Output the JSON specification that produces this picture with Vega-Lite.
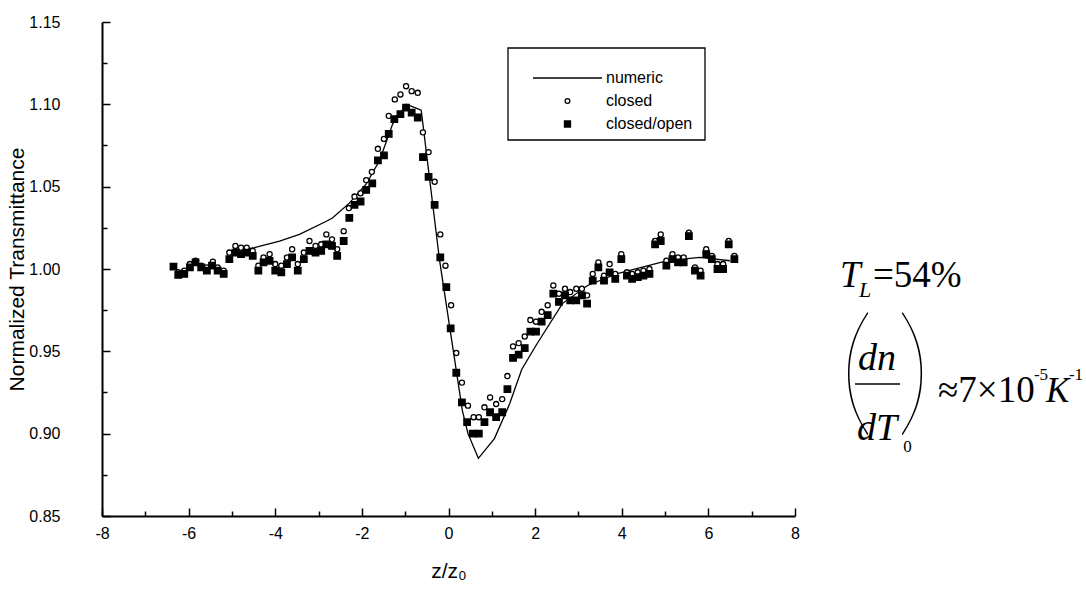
{
  "$schema": "https://vega.github.io/schema/vega-lite/v6.json",
  "width": 693,
  "height": 494,
  "autosize": {"type": "none"},
  "padding": {"left": 102, "top": 22, "right": 291, "bottom": 78},
  "background": "white",
  "datasets": {
    "numeric": [
      {"z": -4.7, "T": 1.012}, {"z": -4.48, "T": 1.013}, {"z": -3.9, "T": 1.017}, {"z": -3.44, "T": 1.021},
      {"z": -2.82, "T": 1.029}, {"z": -2.68, "T": 1.031}, {"z": -2.29, "T": 1.040}, {"z": -1.89, "T": 1.052},
      {"z": -1.59, "T": 1.066}, {"z": -1.29, "T": 1.088}, {"z": -0.97, "T": 1.100}, {"z": -0.63, "T": 1.0964},
      {"z": -0.21, "T": 1.006}, {"z": 0.32, "T": 0.914}, {"z": 0.45, "T": 0.900}, {"z": 0.69, "T": 0.885},
      {"z": 1.06, "T": 0.897}, {"z": 1.41, "T": 0.918}, {"z": 1.69, "T": 0.939}, {"z": 2.03, "T": 0.954},
      {"z": 2.63, "T": 0.979}, {"z": 3.21, "T": 0.990}, {"z": 3.88, "T": 0.997}, {"z": 5.03, "T": 1.005},
      {"z": 5.8, "T": 1.007}, {"z": 6.5, "T": 1.005}
    ],
    "points": [
      {"z": -6.24, "T": 0.998, "series": "closed"}, {"z": -6.10, "T": 0.999, "series": "closed"}, {"z": -5.97, "T": 1.003, "series": "closed"},
      {"z": -5.84, "T": 1.005, "series": "closed"}, {"z": -5.71, "T": 1.002, "series": "closed"}, {"z": -5.58, "T": 1.001, "series": "closed"},
      {"z": -5.44, "T": 1.0045, "series": "closed"}, {"z": -5.33, "T": 1.001, "series": "closed"}, {"z": -5.19, "T": 0.999, "series": "closed"},
      {"z": -5.06, "T": 1.010, "series": "closed"}, {"z": -4.92, "T": 1.014, "series": "closed"}, {"z": -4.79, "T": 1.013, "series": "closed"},
      {"z": -4.66, "T": 1.013, "series": "closed"}, {"z": -4.52, "T": 1.011, "series": "closed"}, {"z": -4.39, "T": 1.002, "series": "closed"},
      {"z": -4.27, "T": 1.007, "series": "closed"}, {"z": -4.13, "T": 1.009, "series": "closed"}, {"z": -4.00, "T": 1.003, "series": "closed"},
      {"z": -3.86, "T": 1.002, "series": "closed"}, {"z": -3.73, "T": 1.007, "series": "closed"}, {"z": -3.61, "T": 1.012, "series": "closed"},
      {"z": -3.48, "T": 1.003, "series": "closed"}, {"z": -3.34, "T": 1.010, "series": "closed"}, {"z": -3.21, "T": 1.017, "series": "closed"},
      {"z": -3.07, "T": 1.014, "series": "closed"}, {"z": -2.94, "T": 1.015, "series": "closed"}, {"z": -2.82, "T": 1.021, "series": "closed"},
      {"z": -2.69, "T": 1.018, "series": "closed"}, {"z": -2.57, "T": 1.012, "series": "closed"}, {"z": -2.42, "T": 1.023, "series": "closed"},
      {"z": -2.30, "T": 1.037, "series": "closed"}, {"z": -2.17, "T": 1.044, "series": "closed"}, {"z": -2.03, "T": 1.046, "series": "closed"},
      {"z": -1.90, "T": 1.054, "series": "closed"}, {"z": -1.77, "T": 1.059, "series": "closed"}, {"z": -1.63, "T": 1.073, "series": "closed"},
      {"z": -1.49, "T": 1.079, "series": "closed"}, {"z": -1.38, "T": 1.093, "series": "closed"}, {"z": -1.24, "T": 1.103, "series": "closed"},
      {"z": -1.11, "T": 1.106, "series": "closed"}, {"z": -0.98, "T": 1.111, "series": "closed"}, {"z": -0.85, "T": 1.108, "series": "closed"},
      {"z": -0.71, "T": 1.107, "series": "closed"}, {"z": -0.59, "T": 1.083, "series": "closed"}, {"z": -0.46, "T": 1.071, "series": "closed"},
      {"z": -0.32, "T": 1.053, "series": "closed"}, {"z": -0.19, "T": 1.021, "series": "closed"}, {"z": -0.07, "T": 1.002, "series": "closed"},
      {"z": 0.06, "T": 0.978, "series": "closed"}, {"z": 0.18, "T": 0.949, "series": "closed"}, {"z": 0.31, "T": 0.931, "series": "closed"},
      {"z": 0.45, "T": 0.917, "series": "closed"}, {"z": 0.58, "T": 0.910, "series": "closed"}, {"z": 0.70, "T": 0.910, "series": "closed"},
      {"z": 0.83, "T": 0.916, "series": "closed"}, {"z": 0.96, "T": 0.922, "series": "closed"}, {"z": 1.10, "T": 0.918, "series": "closed"},
      {"z": 1.24, "T": 0.921, "series": "closed"}, {"z": 1.36, "T": 0.935, "series": "closed"}, {"z": 1.49, "T": 0.953, "series": "closed"},
      {"z": 1.62, "T": 0.955, "series": "closed"}, {"z": 1.76, "T": 0.959, "series": "closed"}, {"z": 1.89, "T": 0.969, "series": "closed"},
      {"z": 2.02, "T": 0.968, "series": "closed"}, {"z": 2.15, "T": 0.974, "series": "closed"}, {"z": 2.29, "T": 0.978, "series": "closed"},
      {"z": 2.42, "T": 0.990, "series": "closed"}, {"z": 2.55, "T": 0.985, "series": "closed"}, {"z": 2.69, "T": 0.988, "series": "closed"},
      {"z": 2.81, "T": 0.986, "series": "closed"}, {"z": 2.95, "T": 0.988, "series": "closed"}, {"z": 3.08, "T": 0.988, "series": "closed"},
      {"z": 3.20, "T": 0.984, "series": "closed"}, {"z": 3.33, "T": 0.997, "series": "closed"}, {"z": 3.46, "T": 1.004, "series": "closed"},
      {"z": 3.59, "T": 0.996, "series": "closed"}, {"z": 3.72, "T": 1.003, "series": "closed"}, {"z": 3.85, "T": 0.997, "series": "closed"},
      {"z": 3.99, "T": 1.009, "series": "closed"}, {"z": 4.12, "T": 0.998, "series": "closed"}, {"z": 4.24, "T": 0.997, "series": "closed"},
      {"z": 4.37, "T": 0.998, "series": "closed"}, {"z": 4.50, "T": 0.999, "series": "closed"}, {"z": 4.64, "T": 1.000, "series": "closed"},
      {"z": 4.77, "T": 1.017, "series": "closed"}, {"z": 4.90, "T": 1.021, "series": "closed"}, {"z": 5.03, "T": 1.005, "series": "closed"},
      {"z": 5.17, "T": 1.009, "series": "closed"}, {"z": 5.30, "T": 1.007, "series": "closed"}, {"z": 5.43, "T": 1.007, "series": "closed"},
      {"z": 5.55, "T": 1.022, "series": "closed"}, {"z": 5.69, "T": 1.001, "series": "closed"}, {"z": 5.82, "T": 0.999, "series": "closed"},
      {"z": 5.95, "T": 1.012, "series": "closed"}, {"z": 6.08, "T": 1.008, "series": "closed"}, {"z": 6.21, "T": 1.003, "series": "closed"},
      {"z": 6.34, "T": 1.003, "series": "closed"}, {"z": 6.47, "T": 1.017, "series": "closed"}, {"z": 6.60, "T": 1.008, "series": "closed"},

      {"z": -6.35, "T": 1.0014, "series": "closed/open"}, {"z": -6.24, "T": 0.9964, "series": "closed/open"}, {"z": -6.10, "T": 0.997, "series": "closed/open"},
      {"z": -5.97, "T": 1.001, "series": "closed/open"}, {"z": -5.84, "T": 1.004, "series": "closed/open"}, {"z": -5.71, "T": 1.001, "series": "closed/open"},
      {"z": -5.58, "T": 0.999, "series": "closed/open"}, {"z": -5.46, "T": 1.002, "series": "closed/open"}, {"z": -5.33, "T": 0.999, "series": "closed/open"},
      {"z": -5.19, "T": 0.997, "series": "closed/open"}, {"z": -5.06, "T": 1.006, "series": "closed/open"}, {"z": -4.92, "T": 1.010, "series": "closed/open"},
      {"z": -4.79, "T": 1.009, "series": "closed/open"}, {"z": -4.66, "T": 1.010, "series": "closed/open"}, {"z": -4.52, "T": 1.008, "series": "closed/open"},
      {"z": -4.39, "T": 0.999, "series": "closed/open"}, {"z": -4.27, "T": 1.004, "series": "closed/open"}, {"z": -4.13, "T": 1.005, "series": "closed/open"},
      {"z": -4.00, "T": 0.999, "series": "closed/open"}, {"z": -3.86, "T": 0.998, "series": "closed/open"}, {"z": -3.73, "T": 1.003, "series": "closed/open"},
      {"z": -3.61, "T": 1.007, "series": "closed/open"}, {"z": -3.48, "T": 0.999, "series": "closed/open"}, {"z": -3.34, "T": 1.006, "series": "closed/open"},
      {"z": -3.21, "T": 1.011, "series": "closed/open"}, {"z": -3.07, "T": 1.010, "series": "closed/open"}, {"z": -2.94, "T": 1.011, "series": "closed/open"},
      {"z": -2.82, "T": 1.015, "series": "closed/open"}, {"z": -2.69, "T": 1.014, "series": "closed/open"}, {"z": -2.57, "T": 1.008, "series": "closed/open"},
      {"z": -2.42, "T": 1.017, "series": "closed/open"}, {"z": -2.29, "T": 1.031, "series": "closed/open"}, {"z": -2.17, "T": 1.039, "series": "closed/open"},
      {"z": -2.03, "T": 1.041, "series": "closed/open"}, {"z": -1.90, "T": 1.048, "series": "closed/open"}, {"z": -1.76, "T": 1.052, "series": "closed/open"},
      {"z": -1.63, "T": 1.066, "series": "closed/open"}, {"z": -1.49, "T": 1.069, "series": "closed/open"}, {"z": -1.38, "T": 1.082, "series": "closed/open"},
      {"z": -1.25, "T": 1.091, "series": "closed/open"}, {"z": -1.11, "T": 1.094, "series": "closed/open"}, {"z": -0.98, "T": 1.098, "series": "closed/open"},
      {"z": -0.85, "T": 1.095, "series": "closed/open"}, {"z": -0.71, "T": 1.092, "series": "closed/open"}, {"z": -0.59, "T": 1.068, "series": "closed/open"},
      {"z": -0.46, "T": 1.056, "series": "closed/open"}, {"z": -0.32, "T": 1.039, "series": "closed/open"}, {"z": -0.19, "T": 1.007, "series": "closed/open"},
      {"z": -0.05, "T": 0.989, "series": "closed/open"}, {"z": 0.05, "T": 0.964, "series": "closed/open"}, {"z": 0.18, "T": 0.937, "series": "closed/open"},
      {"z": 0.31, "T": 0.919, "series": "closed/open"}, {"z": 0.43, "T": 0.907, "series": "closed/open"}, {"z": 0.56, "T": 0.900, "series": "closed/open"},
      {"z": 0.70, "T": 0.900, "series": "closed/open"}, {"z": 0.83, "T": 0.907, "series": "closed/open"}, {"z": 0.96, "T": 0.913, "series": "closed/open"},
      {"z": 1.10, "T": 0.910, "series": "closed/open"}, {"z": 1.24, "T": 0.913, "series": "closed/open"}, {"z": 1.36, "T": 0.927, "series": "closed/open"},
      {"z": 1.49, "T": 0.946, "series": "closed/open"}, {"z": 1.62, "T": 0.948, "series": "closed/open"}, {"z": 1.76, "T": 0.952, "series": "closed/open"},
      {"z": 1.89, "T": 0.962, "series": "closed/open"}, {"z": 2.02, "T": 0.962, "series": "closed/open"}, {"z": 2.15, "T": 0.968, "series": "closed/open"},
      {"z": 2.29, "T": 0.972, "series": "closed/open"}, {"z": 2.42, "T": 0.985, "series": "closed/open"}, {"z": 2.55, "T": 0.980, "series": "closed/open"},
      {"z": 2.69, "T": 0.984, "series": "closed/open"}, {"z": 2.81, "T": 0.981, "series": "closed/open"}, {"z": 2.95, "T": 0.981, "series": "closed/open"},
      {"z": 3.08, "T": 0.984, "series": "closed/open"}, {"z": 3.20, "T": 0.979, "series": "closed/open"}, {"z": 3.33, "T": 0.993, "series": "closed/open"},
      {"z": 3.46, "T": 1.001, "series": "closed/open"}, {"z": 3.59, "T": 0.993, "series": "closed/open"}, {"z": 3.72, "T": 0.998, "series": "closed/open"},
      {"z": 3.85, "T": 0.994, "series": "closed/open"}, {"z": 3.99, "T": 1.006, "series": "closed/open"}, {"z": 4.12, "T": 0.996, "series": "closed/open"},
      {"z": 4.24, "T": 0.994, "series": "closed/open"}, {"z": 4.37, "T": 0.995, "series": "closed/open"}, {"z": 4.50, "T": 0.996, "series": "closed/open"},
      {"z": 4.64, "T": 0.997, "series": "closed/open"}, {"z": 4.77, "T": 1.015, "series": "closed/open"}, {"z": 4.90, "T": 1.017, "series": "closed/open"},
      {"z": 5.03, "T": 1.002, "series": "closed/open"}, {"z": 5.17, "T": 1.006, "series": "closed/open"}, {"z": 5.30, "T": 1.004, "series": "closed/open"},
      {"z": 5.43, "T": 1.004, "series": "closed/open"}, {"z": 5.55, "T": 1.020, "series": "closed/open"}, {"z": 5.69, "T": 0.999, "series": "closed/open"},
      {"z": 5.82, "T": 0.996, "series": "closed/open"}, {"z": 5.95, "T": 1.009, "series": "closed/open"}, {"z": 6.08, "T": 1.006, "series": "closed/open"},
      {"z": 6.21, "T": 1.000, "series": "closed/open"}, {"z": 6.34, "T": 1.000, "series": "closed/open"}, {"z": 6.47, "T": 1.015, "series": "closed/open"},
      {"z": 6.60, "T": 1.006, "series": "closed/open"}
    ],
    "legendBox": [
      {"z": 1.374, "z2": 5.922, "T": 1.13421, "T2": 1.07834}
    ],
    "legendLine": [
      {"z": 1.951, "z2": 3.544, "T": 1.11599}
    ],
    "legendSymbols": [
      {"z": 2.747, "T": 1.10202, "series": "closed"},
      {"z": 2.747, "T": 1.08806, "series": "closed/open"}
    ],
    "legendLabels": [
      {"z": 3.636, "T": 1.11599, "label": "numeric"},
      {"z": 3.636, "T": 1.10202, "label": "closed"},
      {"z": 3.636, "T": 1.08806, "label": "closed/open"}
    ],
    "annItalicBig": [
      {"z": 9.039, "T": 0.98907, "label": "T"}
    ],
    "annK": [
      {"z": 13.795, "T": 0.91923, "label": "K"}
    ],
    "annFraction": [
      {"z": 9.455, "T": 0.93866, "label": "dn"},
      {"z": 9.432, "T": 0.89615, "label": "dT"}
    ],
    "annUprightBig": [
      {"z": 9.801, "T": 0.98907, "label": "=54%"},
      {"z": 11.302, "T": 0.91923, "label": "≈7×10"}
    ],
    "annItalicSmall": [
      {"z": 9.478, "T": 0.983, "label": "L"}
    ],
    "annUprightSmall": [
      {"z": 10.50, "T": 0.88887, "label": "0"},
      {"z": 13.517, "T": 0.93259, "label": "-5"},
      {"z": 14.325, "T": 0.93259, "label": "-1"}
    ],
    "annParen": [
      {"z": 9.016, "T": 0.90951, "label": "("},
      {"z": 10.332, "T": 0.90951, "label": ")"}
    ],
    "fracBar": [
      {"z": 9.386, "z2": 10.425, "T": 0.93016}
    ]
  },
  "encoding": {
    "x": {
      "field": "z", "type": "quantitative",
      "scale": {"domain": [-8, 8], "nice": false, "zero": false},
      "axis": {
        "title": "z/z₀",
        "values": [-8, -7, -6, -5, -4, -3, -2, -1, 0, 1, 2, 3, 4, 5, 6, 7, 8],
        "labelExpr": "datum.value % 2 == 0 ? '' + datum.value : ''",
        "tickSize": {"condition": {"test": "datum.value % 2 == 0", "value": -8}, "value": -5},
        "labelPadding": 17,
        "titlePadding": 16,
        "labelFlush": false,
        "labelOverlap": false
      }
    },
    "y": {
      "field": "T", "type": "quantitative",
      "scale": {"domain": [0.85, 1.15], "nice": false, "zero": false},
      "axis": {
        "title": "Normalized Transmittance",
        "values": [0.85, 0.875, 0.9, 0.925, 0.95, 0.975, 1, 1.025, 1.05, 1.075, 1.1, 1.125, 1.15],
        "labelExpr": "abs(round(datum.value*1000)) % 50 == 0 ? format(datum.value, '.2f') : ''",
        "tickSize": {"condition": {"test": "abs(round(datum.value*1000)) % 50 == 0", "value": -8}, "value": -5},
        "labelPadding": 50,
        "titlePadding": 1,
        "labelFlush": false,
        "labelOverlap": false
      }
    }
  },
  "layer": [
    {
      "data": {"name": "numeric"},
      "mark": {"type": "line", "color": "black", "strokeWidth": 1.3}
    },
    {
      "data": {"name": "points"},
      "mark": {"type": "point", "filled": true, "stroke": "black", "strokeWidth": 1.3, "opacity": 1},
      "encoding": {
        "shape": {"field": "series", "type": "nominal", "scale": {"domain": ["closed", "closed/open"], "range": ["circle", "square"]}, "legend": null},
        "fill": {"field": "series", "type": "nominal", "scale": {"domain": ["closed", "closed/open"], "range": ["white", "black"]}, "legend": null},
        "size": {"condition": {"test": "datum.series == 'closed'", "value": 26}, "value": 42}
      }
    },
    {
      "data": {"name": "legendBox"},
      "mark": {"type": "rect", "fill": "white", "stroke": "black", "strokeWidth": 1.3},
      "encoding": {"x2": {"field": "z2"}, "y2": {"field": "T2"}}
    },
    {
      "data": {"name": "legendLine"},
      "mark": {"type": "rule", "color": "black", "strokeWidth": 1.3},
      "encoding": {"x2": {"field": "z2"}}
    },
    {
      "data": {"name": "legendSymbols"},
      "mark": {"type": "point", "filled": true, "stroke": "black", "strokeWidth": 1.3, "opacity": 1},
      "encoding": {
        "shape": {"field": "series", "type": "nominal", "legend": null},
        "fill": {"field": "series", "type": "nominal", "legend": null},
        "size": {"condition": {"test": "datum.series == 'closed'", "value": 22}, "value": 36}
      }
    },
    {
      "data": {"name": "legendLabels"},
      "mark": {"type": "text", "font": "Liberation Sans", "fontSize": 16, "align": "left", "baseline": "middle", "color": "black"},
      "encoding": {"text": {"field": "label"}}
    },
    {
      "data": {"name": "annItalicBig"},
      "mark": {"type": "text", "font": "Liberation Serif", "fontStyle": "italic", "fontSize": 37, "align": "left", "baseline": "alphabetic", "color": "black"},
      "encoding": {"text": {"field": "label"}}
    },
    {
      "data": {"name": "annK"},
      "mark": {"type": "text", "font": "Liberation Serif", "fontStyle": "italic", "fontSize": 35, "align": "left", "baseline": "alphabetic", "color": "black"},
      "encoding": {"text": {"field": "label"}}
    },
    {
      "data": {"name": "annFraction"},
      "mark": {"type": "text", "font": "Liberation Serif", "fontStyle": "italic", "fontSize": 38, "align": "left", "baseline": "alphabetic", "color": "black"},
      "encoding": {"text": {"field": "label"}}
    },
    {
      "data": {"name": "annUprightBig"},
      "mark": {"type": "text", "font": "Liberation Serif", "fontSize": 37, "align": "left", "baseline": "alphabetic", "color": "black"},
      "encoding": {"text": {"field": "label"}}
    },
    {
      "data": {"name": "annItalicSmall"},
      "mark": {"type": "text", "font": "Liberation Serif", "fontStyle": "italic", "fontSize": 22, "align": "left", "baseline": "alphabetic", "color": "black"},
      "encoding": {"text": {"field": "label"}}
    },
    {
      "data": {"name": "annUprightSmall"},
      "mark": {"type": "text", "font": "Liberation Serif", "fontSize": 17, "align": "left", "baseline": "alphabetic", "color": "black"},
      "encoding": {"text": {"field": "label"}}
    },
    {
      "data": {"name": "annParen"},
      "mark": {"type": "text", "font": "Lato", "fontWeight": 100, "fontSize": 140, "align": "left", "baseline": "alphabetic", "color": "black"},
      "encoding": {"text": {"field": "label"}}
    },
    {
      "data": {"name": "fracBar"},
      "mark": {"type": "rule", "color": "black", "strokeWidth": 1.5},
      "encoding": {"x2": {"field": "z2"}}
    }
  ],
  "config": {
    "view": {"stroke": null},
    "font": "Liberation Sans",
    "axis": {
      "grid": false,
      "domainColor": "black",
      "domainWidth": 2,
      "tickColor": "black",
      "tickWidth": 1.5,
      "labelColor": "black",
      "labelFont": "Liberation Sans",
      "labelFontSize": 16,
      "titleFont": "Liberation Sans",
      "titleFontSize": 21,
      "titleFontWeight": "normal",
      "titleColor": "black"
    }
  }
}
